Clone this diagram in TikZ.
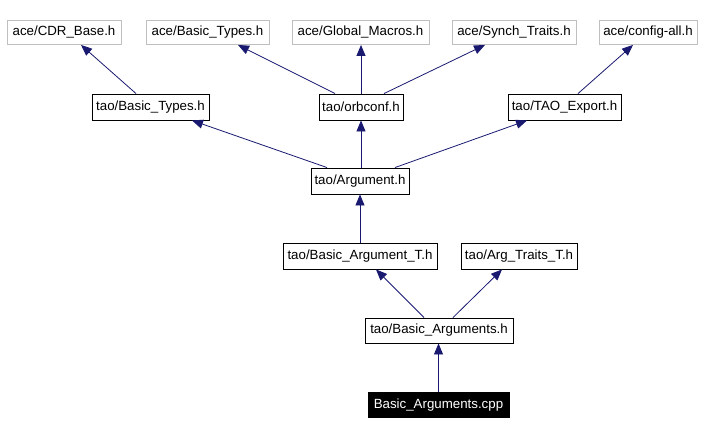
\documentclass[tikz,border=0pt]{standalone}
\usepackage{fontspec}
\setmainfont{Liberation Sans}
\usetikzlibrary{arrows.meta}
\definecolor{edgecol}{HTML}{191970}
\definecolor{graybox}{HTML}{BFBFBF}
\begin{document}
\begin{tikzpicture}[x=1pt,y=-1pt,
  box/.style={draw=black,line width=0.9pt,rectangle,inner sep=0pt,anchor=center,
    font=\fontsize{13.3}{15}\selectfont},
  extbox/.style={box,draw=graybox},
  curbox/.style={box,fill=black,text=white},
  edge/.style={draw=edgecol,line width=0.8pt,-{Triangle[length=11pt,width=9pt]}}]
\useasboundingbox (0,0) rectangle (704,435);
% row 1
\node[extbox,minimum width=114pt,minimum height=24pt] (cdr) at (64,32.5) {ace/CDR\_Base.h};
\node[extbox,minimum width=123pt,minimum height=24pt] (aceBT) at (207.5,32.5) {ace/Basic\_Types.h};
\node[extbox,minimum width=137pt,minimum height=24pt] (gm) at (360.5,32.5) {ace/Global\_Macros.h};
\node[extbox,minimum width=124pt,minimum height=24pt] (st) at (514,32.5) {ace/Synch\_Traits.h};
\node[extbox,minimum width=98pt,minimum height=24pt] (ca) at (648,32.5) {ace/config-all.h};
% row 2
\node[box,minimum width=117pt,minimum height=26pt] (taoBT) at (150.5,107) {tao/Basic\_Types.h};
\node[box,minimum width=84pt,minimum height=26pt] (orb) at (361,107) {tao/orbconf.h};
\node[box,minimum width=113pt,minimum height=26pt] (exp) at (564.5,107) {tao/TAO\_Export.h};
% row 3
\node[box,minimum width=98pt,minimum height=26pt] (arg) at (360,181) {tao/Argument.h};
% row 4
\node[box,minimum width=154pt,minimum height=26pt] (bat) at (360,256) {tao/Basic\_Argument\_T.h};
\node[box,minimum width=116pt,minimum height=26pt] (att) at (519,256) {tao/Arg\_Traits\_T.h};
% row 5
\node[box,minimum width=148pt,minimum height=25pt] (bas) at (439,330.5) {tao/Basic\_Arguments.h};
% row 6
\node[curbox,minimum width=141pt,minimum height=25pt] (cpp) at (438.5,405) {Basic\_Arguments.cpp};
% edges
\draw[edge] ([xshift=-14.5pt]taoBT.north) -- ([xshift=17pt]cdr.south);
\draw[edge] ([xshift=-26pt]orb.north) -- ([xshift=30.5pt]aceBT.south);
\draw[edge] (orb.north) -- (orb.north |- gm.south);
\draw[edge] ([xshift=23pt]orb.north) -- ([xshift=-29pt]st.south);
\draw[edge] ([xshift=13.5pt]exp.north) -- ([xshift=-15pt]ca.south);
\draw[edge] ([xshift=-33pt]arg.north) -- ([xshift=41.5pt]taoBT.south);
\draw[edge] (arg.north -| orb.south) -- (orb.south);
\draw[edge] ([xshift=35pt]arg.north) -- ([xshift=-37.5pt]exp.south);
\draw[edge] (bat.north) -- (arg.south);
\draw[edge] ([xshift=-15pt]bas.north) -- ([xshift=16pt]bat.south);
\draw[edge] ([xshift=14pt]bas.north) -- ([xshift=-17pt]att.south);
\draw[edge] (cpp.north) -- (cpp.north |- bas.south);
\end{tikzpicture}
\end{document}
